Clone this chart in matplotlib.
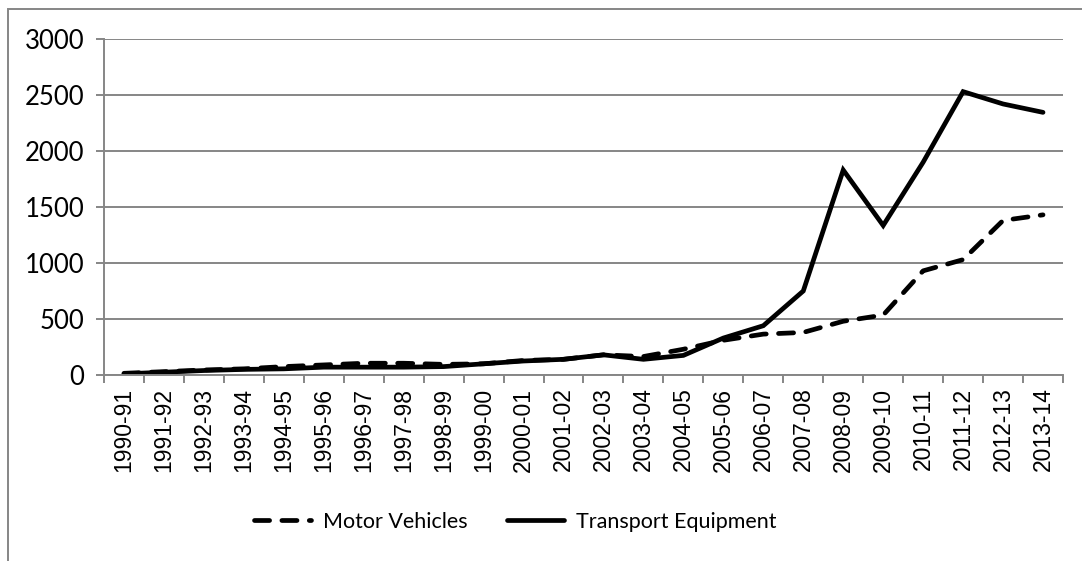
import matplotlib.pyplot as plt
from matplotlib.patches import Rectangle
import numpy as np

years = [
    '1990-91', '1991-92', '1992-93', '1993-94', '1994-95', '1995-96',
    '1996-97', '1997-98', '1998-99', '1999-00', '2000-01', '2001-02',
    '2002-03', '2003-04', '2004-05', '2005-06', '2006-07', '2007-08',
    '2008-09', '2009-10', '2010-11', '2011-12', '2012-13', '2013-14',
]
motor_vehicles = [
    15, 30, 45, 55, 75, 90, 105, 105, 95, 100, 130, 140,
    180, 165, 230, 310, 365, 380, 480, 535, 930, 1030, 1380, 1430,
]
transport_equipment = [
    10, 25, 40, 50, 55, 70, 70, 70, 75, 100, 125, 140,
    180, 140, 175, 330, 440, 750, 1830, 1335, 1900, 2530, 2420, 2345,
]
y_ticks = [0, 500, 1000, 1500, 2000, 2500, 3000]

W, H = 1082, 561
fig = plt.figure(figsize=(W / 100, H / 100), dpi=100)
ax = fig.add_axes([104 / W, 1 - 375 / H, (1063 - 104) / W, (375 - 39) / H])

grey = '#868686'
x = np.arange(len(years))

ax.plot(x, motor_vehicles, color='black', lw=3.4, dashes=(3.2, 2.6),
        dash_capstyle='round', solid_capstyle='round', label='Motor Vehicles')
ax.plot(x, transport_equipment, color='black', lw=3.4,
        solid_capstyle='round', solid_joinstyle='miter',
        label='Transport Equipment')

ax.set_xlim(-0.5, len(years) - 0.5)
ax.set_ylim(0, 3000)
ax.set_yticks(y_ticks)
ax.set_yticklabels([str(v) for v in y_ticks], family='Lato', fontsize=18.5)
ax.yaxis.grid(True, color=grey, lw=1.4)
ax.set_axisbelow(True)

ax.set_xticks(x)
ax.set_xticklabels(years, rotation=90, family='Liberation Sans', fontsize=16.5)
ax.set_xticks(np.arange(-0.5, len(years), 1), minor=True)
ax.tick_params(axis='x', which='major', length=0, pad=9)
ax.tick_params(axis='x', which='minor', length=6, width=1.4, color=grey)
ax.tick_params(axis='y', length=6, width=1.4, color=grey, pad=8)

for side in ['top', 'right']:
    ax.spines[side].set_visible(False)
for side in ['left', 'bottom']:
    ax.spines[side].set_color(grey)
    ax.spines[side].set_linewidth(1.4)

leg = fig.legend(loc='center', bbox_to_anchor=(515 / W, 1 - 522 / H), ncol=2,
                 frameon=False, prop={'family': 'Lato', 'size': 15.5},
                 handlelength=2.65, handletextpad=0.55, columnspacing=1.85)

fig.patches.append(Rectangle((8 / W, -0.1), 1.2, 1 - 9 / H + 0.1,
                             transform=fig.transFigure, fill=False,
                             edgecolor=grey, lw=1.4))

fig.savefig('out.png', dpi=100)
